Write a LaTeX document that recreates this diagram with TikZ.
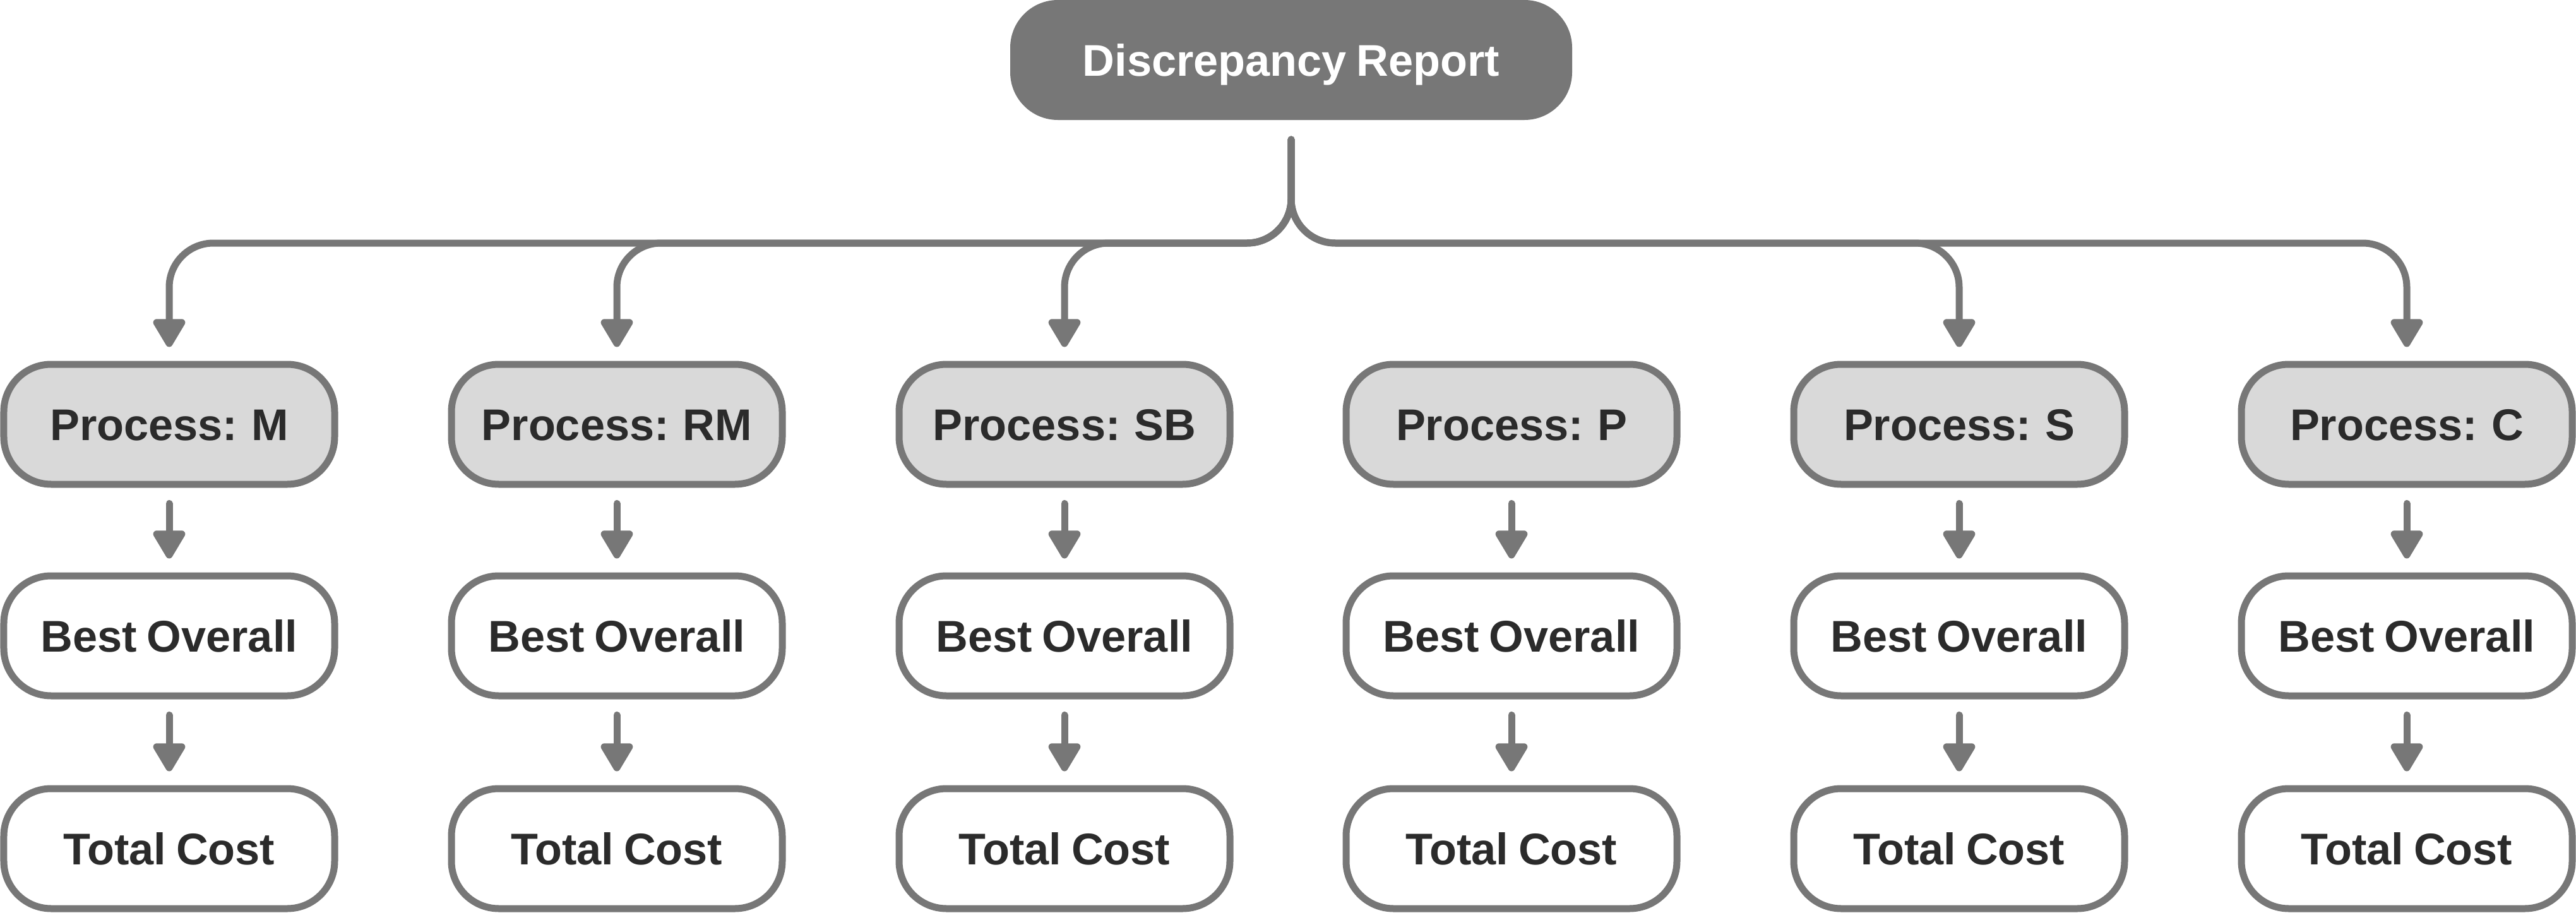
\documentclass[tikz,border=0pt]{standalone}
\usepackage{fontspec}
\setmainfont[WordSpace=0.8]{Liberation Sans}
\usepackage{xcolor}
\definecolor{drgray}{HTML}{777777}
\definecolor{drlight}{HTML}{D9D9D9}
\definecolor{drtext}{HTML}{2B2B2B}
\usetikzlibrary{arrows.meta}

\begin{document}
\begin{tikzpicture}[
  rbox/.style={rectangle, rounded corners=0.7cm, draw=drgray, line width=0.11cm,
               fill=drgray, minimum width=8.79cm, minimum height=1.79cm,
               text height=0.51cm, text depth=0cm,
               font=\bfseries\fontsize{20}{24}\selectfont, text=white},
  pbox/.style={rectangle, rounded corners=0.75cm, draw=drgray, line width=0.11cm,
               minimum width=5.24cm, minimum height=1.90cm,
               text height=0.51cm, text depth=0cm,
               font=\bfseries\fontsize{20}{24}\selectfont, text=drtext},
  farr/.style={-{Triangle[length=0.5cm, width=0.56cm, round]}, draw=drgray,
               line width=0.11cm, line cap=round},
  barr/.style={farr, rounded corners=0.7cm}
]
\useasboundingbox (0,0) rectangle (40.8,-14.46);

% Report node
\node[rbox] (dr) at (20.45,-0.95) {Discrepancy Report};
\coordinate (bus) at (0,-3.85);

% Process nodes
\node[pbox, fill=drlight] (pm)  at ( 2.68,-6.72) {Process: M};
\node[pbox, fill=drlight] (prm) at ( 9.77,-6.72) {Process: RM};
\node[pbox, fill=drlight] (psb) at (16.86,-6.72) {Process: SB};
\node[pbox, fill=drlight] (pp)  at (23.94,-6.72) {Process: P};
\node[pbox, fill=drlight] (ps)  at (31.03,-6.72) {Process: S};
\node[pbox, fill=drlight] (pc)  at (38.12,-6.72) {Process: C};

% Best overall nodes
\node[pbox, fill=white] (bm)  at ( 2.68,-10.07) {Best Overall};
\node[pbox, fill=white] (brm) at ( 9.77,-10.07) {Best Overall};
\node[pbox, fill=white] (bsb) at (16.86,-10.07) {Best Overall};
\node[pbox, fill=white] (bp)  at (23.94,-10.07) {Best Overall};
\node[pbox, fill=white] (bs)  at (31.03,-10.07) {Best Overall};
\node[pbox, fill=white] (bc)  at (38.12,-10.07) {Best Overall};

% Total cost nodes
\node[pbox, fill=white] (tm)  at ( 2.68,-13.44) {Total Cost};
\node[pbox, fill=white] (trm) at ( 9.77,-13.44) {Total Cost};
\node[pbox, fill=white] (tsb) at (16.86,-13.44) {Total Cost};
\node[pbox, fill=white] (tp)  at (23.94,-13.44) {Total Cost};
\node[pbox, fill=white] (ts)  at (31.03,-13.44) {Total Cost};
\node[pbox, fill=white] (tc)  at (38.12,-13.44) {Total Cost};

% Bus arrows
\draw[barr] ([yshift=-0.31cm]dr.south) -- (dr.south |- bus) -| ([yshift=0.22cm]pm.north);
\draw[barr] ([yshift=-0.31cm]dr.south) -- (dr.south |- bus) -| ([yshift=0.22cm]prm.north);
\draw[barr] ([yshift=-0.31cm]dr.south) -- (dr.south |- bus) -| ([yshift=0.22cm]psb.north);
\draw[barr] ([yshift=-0.31cm]dr.south) -- (dr.south |- bus) -| ([yshift=0.22cm]ps.north);
\draw[barr] ([yshift=-0.31cm]dr.south) -- (dr.south |- bus) -| ([yshift=0.22cm]pc.north);

% Column arrows
\draw[farr] ([yshift=-0.25cm]pm.south)  -- ([yshift=0.22cm]bm.north);
\draw[farr] ([yshift=-0.25cm]prm.south) -- ([yshift=0.22cm]brm.north);
\draw[farr] ([yshift=-0.25cm]psb.south) -- ([yshift=0.22cm]bsb.north);
\draw[farr] ([yshift=-0.25cm]pp.south)  -- ([yshift=0.22cm]bp.north);
\draw[farr] ([yshift=-0.25cm]ps.south)  -- ([yshift=0.22cm]bs.north);
\draw[farr] ([yshift=-0.25cm]pc.south)  -- ([yshift=0.22cm]bc.north);
\draw[farr] ([yshift=-0.25cm]bm.south)  -- ([yshift=0.22cm]tm.north);
\draw[farr] ([yshift=-0.25cm]brm.south) -- ([yshift=0.22cm]trm.north);
\draw[farr] ([yshift=-0.25cm]bsb.south) -- ([yshift=0.22cm]tsb.north);
\draw[farr] ([yshift=-0.25cm]bp.south)  -- ([yshift=0.22cm]tp.north);
\draw[farr] ([yshift=-0.25cm]bs.south)  -- ([yshift=0.22cm]ts.north);
\draw[farr] ([yshift=-0.25cm]bc.south)  -- ([yshift=0.22cm]tc.north);
\end{tikzpicture}
\end{document}
